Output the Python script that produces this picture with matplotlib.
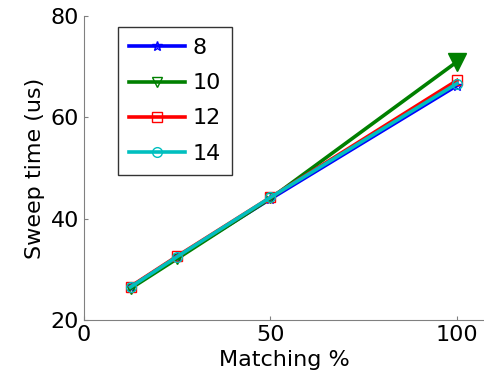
import matplotlib
matplotlib.use("Agg")
import matplotlib.pyplot as plt

matching = [12.5, 25, 50, 100]
labels = ["8", "10", "12", "14"]
sweep_8 = [26.5, 32.4, 43.9, 66.3]
sweep_10 = [26.2, 32.1, 44.0, 71.0]
sweep_12 = [26.6, 32.6, 44.2, 67.3]
sweep_14 = [26.5, 32.5, 44.2, 66.7]

series = [sweep_8, sweep_10, sweep_12, sweep_14]
colors = ["#0000ff", "#008000", "#ff0000", "#00bfbf"]
markers = ["*", "v", "s", "o"]

plt.rcParams["font.family"] = "DejaVu Sans"
plt.rcParams["font.size"] = 16

fig = plt.figure(figsize=(4.85, 3.85), dpi=100)
ax = fig.add_axes([0.173, 0.169, 0.827, 0.789])

for ys, c, m, lab in zip(series, colors, markers, labels):
    ax.plot(matching, ys, color=c, lw=2.6, marker=m, ms=7,
            mfc="none", mec=c, mew=1, label=lab)

# filled end marker on the 10 series
ax.plot(matching[-1], sweep_10[-1], marker="v", ms=13, color=colors[1], ls="none")

ax.set_xlim(0, 107.5)
ax.set_ylim(20, 80)
ax.set_xticks([0, 50, 100])
ax.set_yticks([20, 40, 60, 80])
ax.set_xlabel("Matching %", fontsize=16)
ax.set_ylabel("Sweep time (us)", fontsize=16)

for s in ["top", "right"]:
    ax.spines[s].set_visible(False)
for s in ["left", "bottom"]:
    ax.spines[s].set_color("#808080")
ax.tick_params(direction="in", length=3, color="#808080", labelsize=16)

leg = ax.legend(loc="upper left", bbox_to_anchor=(0.085, 0.964), borderaxespad=0,
                handlelength=2.5, handletextpad=0.35, fontsize=16, fancybox=False,
                labelspacing=0.68, borderpad=0.5)
leg.get_frame().set_edgecolor("black")
leg.get_frame().set_linewidth(1)

fig.savefig("out.png", dpi=100)
